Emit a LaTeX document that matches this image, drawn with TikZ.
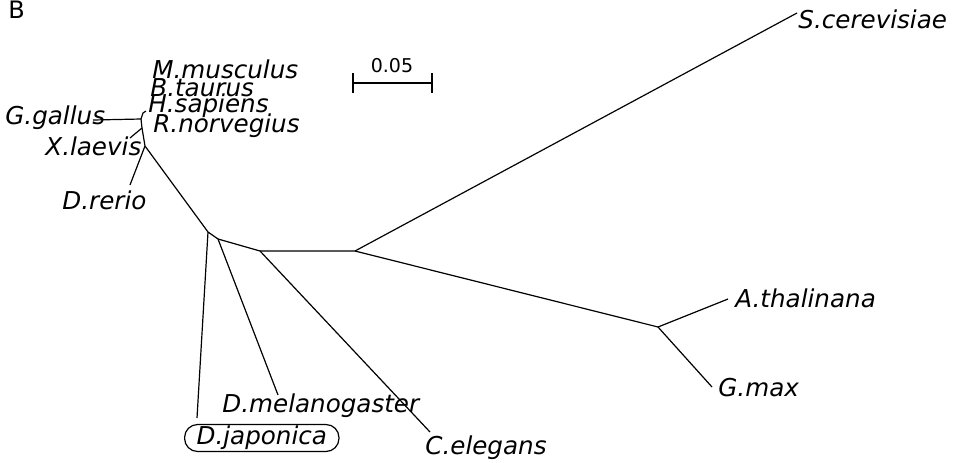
\documentclass[tikz,border=0pt]{standalone}
\usepackage{fontspec}
\setmainfont{DejaVu Sans}
\usetikzlibrary{calc}

\tikzset{
    branch/.style={line width=0.6pt, black},
    taxon/.style={font=\fontsize{12.3}{13}\selectfont\itshape, inner sep=0pt, anchor=west},
}

\begin{document}
\begin{tikzpicture}[x=0.5pt, y=-0.5pt]
        \useasboundingbox (0,0) rectangle (959,462);

        % panel letter
        \node[font=\fontsize{12}{12}\selectfont, inner sep=0pt, anchor=base west] (panel) at (8,18) {B};

        % inner nodes of the tree
        \coordinate (nMam) at (143,113);
        \coordinate (nGal) at (141,119);
        \coordinate (nXen) at (142,128);
        \coordinate (nDre) at (145,146);
        \coordinate (nDja) at (208,232);
        \coordinate (nDme) at (218,239);
        \coordinate (nCel) at (260,251);
        \coordinate (nSce) at (355,251);
        \coordinate (nPla) at (658,327);

        % tips of the branches
        \coordinate (tGal) at (93,120);
        \coordinate (tMam) at (146,111);
        \coordinate (tXla) at (130,138);
        \coordinate (tDre) at (130,185);
        \coordinate (tDja) at (197,418);
        \coordinate (tDme) at (278,395);
        \coordinate (tCel) at (430,432);
        \coordinate (tSce) at (797,13);
        \coordinate (tAth) at (728,299);
        \coordinate (tGma) at (712,387);

        % taxa
        \node[taxon] (Mmu) at (152,69) {M.musculus};
        \node[taxon] (Bta) at (150,88) {B.taurus};
        \node[taxon] (Hsa) at (148,106) {H.sapiens};
        \node[taxon] (Rno) at (153,126) {R.norvegius};
        \node[taxon] (Gga) at (5,118) {G.gallus};
        \node[taxon] (Xla) at (45,146) {X.laevis};
        \node[taxon] (Dre) at (62,200) {D.rerio};
        \node[taxon] (Dme) at (222,406) {D.melanogaster};
        \node[taxon, draw, line width=0.6pt, rounded corners=6.5pt,
              inner xsep=6pt, minimum height=13.5pt] (Dja) at (184,438) {D.japonica};
        \node[taxon] (Cel) at (425,448) {C.elegans};
        \node[taxon] (Sce) at (798,19) {S.cerevisiae};
        \node[taxon] (Ath) at (735,298) {A.thalinana};
        \node[taxon] (Gma) at (718,388) {G.max};

        % branches
        \draw[branch] (tGal) -- (nGal) -- (nMam) -- (tMam);
        \draw[branch] (nGal) -- (nXen) -- (nDre) -- (nDja);
        \draw[branch] (nXen) -- (tXla);
        \draw[branch] (nDre) -- (tDre);
        \draw[branch] (nDja) -- (tDja);
        \draw[branch] (nDja) -- (nDme) -- (tDme);
        \draw[branch] (nDme) -- (nCel) -- (tCel);
        \draw[branch] (nCel) -- (nSce) -- (tSce);
        \draw[branch] (nSce) -- (nPla) -- (tAth);
        \draw[branch] (nPla) -- (tGma);

        % scale bar
        \coordinate (sbL) at (353,83);
        \coordinate (sbR) at (432,83);
        \draw[line width=0.8pt] (sbL) -- (sbR);
        \draw[line width=0.8pt] ($(sbL)+(0,-10)$) -- ($(sbL)+(0,10)$);
        \draw[line width=0.8pt] ($(sbR)+(0,-10)$) -- ($(sbR)+(0,10)$);
        \node[font=\fontsize{9.5}{10}\selectfont, inner sep=0pt] (sbText) at (392,66) {0.05};
    \end{tikzpicture}
\end{document}
